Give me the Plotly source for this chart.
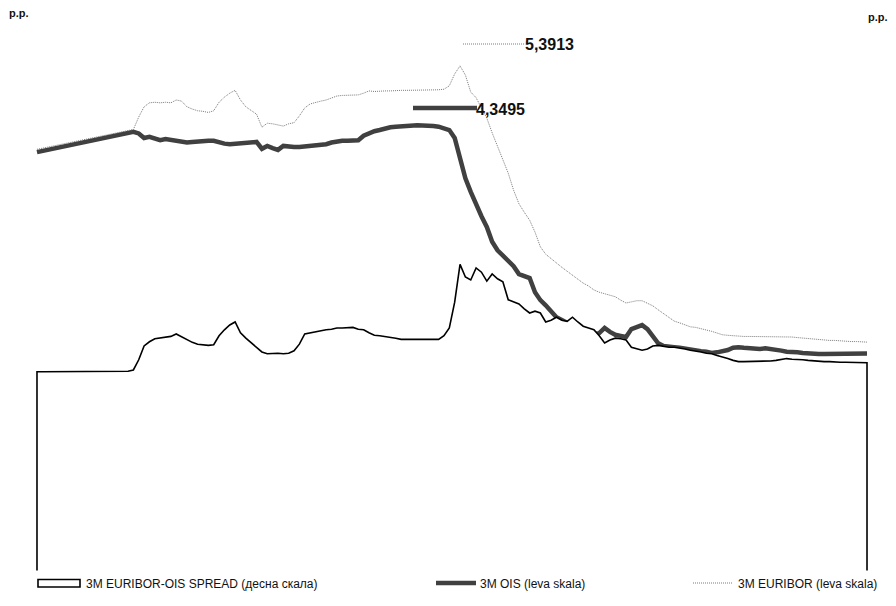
import pandas as pd
import plotly.graph_objects as go

START_DATE = "2007-04-02"

SPREAD = [
    0.07, 0.07, 0.07, 0.07, 0.07, 0.07, 0.07, 0.07, 0.07, 0.07,
    0.07, 0.07, 0.07, 0.07, 0.07, 0.07, 0.07, 0.08, 0.10,
    0.27, 0.50, 0.57, 0.62, 0.63, 0.64, 0.66, 0.70, 0.65, 0.60,
    0.56, 0.53, 0.52, 0.51, 0.52, 0.67, 0.77, 0.85, 0.90, 0.72,
    0.63, 0.55, 0.47,
    0.40, 0.37, 0.38, 0.38, 0.37, 0.38, 0.42, 0.53, 0.70, 0.72,
    0.74, 0.75, 0.77, 0.78, 0.80, 0.80, 0.80, 0.81, 0.78,
    0.77, 0.72, 0.68, 0.67, 0.66, 0.65, 0.63, 0.61, 0.61, 0.61,
    0.61, 0.61, 0.61, 0.61, 0.61, 0.67, 0.80, 1.23,
    1.86, 1.65, 1.60, 1.80, 1.73, 1.58, 1.70, 1.62, 1.57, 1.27,
    1.23, 1.20, 1.12, 1.05, 1.08, 1.05, 0.90, 0.93, 0.98, 0.93,
    0.91, 0.98,
    0.90, 0.83, 0.80, 0.77, 0.67, 0.55, 0.60, 0.63, 0.62, 0.60,
    0.48, 0.45, 0.43, 0.45, 0.50, 0.51, 0.49, 0.48, 0.48, 0.47,
    0.45, 0.43, 0.42, 0.40, 0.38, 0.37, 0.34, 0.32, 0.29, 0.26,
    0.24, 0.24, 0.24, 0.24, 0.24, 0.24, 0.25, 0.26, 0.28, 0.29,
    0.28, 0.28, 0.27, 0.26, 0.25, 0.25, 0.24, 0.24, 0.23, 0.23,
    0.23, 0.23, 0.22, 0.22, 0.22,
]

OIS = [
    3.87, 3.89, 3.91, 3.93, 3.95, 3.97, 3.99, 4.01, 4.03, 4.05,
    4.07, 4.09, 4.11, 4.13, 4.15, 4.17, 4.19, 4.21, 4.23,
    4.20, 4.12, 4.14, 4.12, 4.08, 4.10, 4.08, 4.07, 4.05, 4.04,
    4.05, 4.06, 4.06, 4.07, 4.07, 4.04, 4.02, 4.01, 4.02, 4.03,
    4.04, 4.04, 4.05,
    3.93, 3.98, 3.94, 3.91, 3.98, 3.96, 3.96, 3.96, 3.97, 3.98,
    3.99, 4.00, 4.01, 4.04, 4.06, 4.07, 4.07, 4.07, 4.08,
    4.16, 4.21, 4.24, 4.26, 4.29, 4.31, 4.32, 4.33, 4.34, 4.3495,
    4.345, 4.34, 4.34, 4.33, 4.32, 4.30, 4.26, 4.12,
    3.73, 3.41, 3.17, 2.94, 2.74, 2.55, 2.29, 2.14, 2.04, 1.95,
    1.86, 1.72, 1.69, 1.65, 1.40, 1.26, 1.17, 1.05, 0.96, 0.91,
    0.86, 0.77,
    0.72, 0.66, 0.65, 0.65, 0.68, 0.77, 0.70, 0.65, 0.63, 0.61,
    0.75, 0.79, 0.82, 0.75, 0.63, 0.50, 0.45, 0.43, 0.43, 0.42,
    0.40, 0.38, 0.37, 0.36, 0.35, 0.33, 0.34, 0.35, 0.38, 0.42,
    0.43, 0.42, 0.41, 0.40, 0.40, 0.41, 0.40, 0.39, 0.37, 0.35,
    0.35, 0.34, 0.33, 0.32, 0.32, 0.31, 0.31, 0.31, 0.31, 0.31,
    0.32, 0.32, 0.32, 0.32, 0.32,
]

EURIBOR = [
    3.92, 3.94, 3.96, 3.98, 4.00, 4.02, 4.04, 4.06, 4.07, 4.10,
    4.12, 4.13, 4.15, 4.17, 4.19, 4.21, 4.23, 4.25, 4.27,
    4.49, 4.67, 4.74, 4.75, 4.74, 4.75, 4.74, 4.79, 4.77, 4.67,
    4.63, 4.60, 4.59, 4.57, 4.60, 4.75, 4.84, 4.91, 4.96, 4.79,
    4.67, 4.60, 4.54,
    4.31, 4.38, 4.37, 4.35, 4.33, 4.37, 4.39, 4.51, 4.65, 4.72,
    4.75, 4.77, 4.79, 4.83, 4.86, 4.87, 4.87, 4.87, 4.88,
    4.91, 4.95, 4.94, 4.95, 4.95, 4.95, 4.96, 4.96, 4.96, 4.96,
    4.96, 4.96, 4.97, 4.97, 4.97, 4.98, 5.04, 5.25,
    5.3913, 5.23, 4.93, 4.83, 4.65, 4.47, 4.21, 3.98, 3.73, 3.50,
    3.20, 2.96, 2.81, 2.67, 2.46, 2.20, 2.07, 1.99, 1.92, 1.84,
    1.77, 1.70,
    1.63, 1.56, 1.51, 1.44, 1.40, 1.37, 1.35, 1.32, 1.26, 1.21,
    1.23, 1.25, 1.25, 1.21, 1.16, 1.09, 1.02, 0.95, 0.89, 0.86,
    0.82, 0.79, 0.78, 0.76, 0.73, 0.71, 0.68, 0.65, 0.64, 0.63,
    0.62, 0.62, 0.62, 0.62, 0.62, 0.62, 0.62, 0.62, 0.62, 0.62,
    0.61, 0.60, 0.59, 0.58, 0.57, 0.57, 0.56, 0.55, 0.55, 0.54,
    0.54, 0.53, 0.53, 0.52, 0.52,
]

NAMES = [
    "3M EURIBOR-OIS SPREAD (десна скала)",
    "3M OIS (leva skala)",
    "3M EURIBOR (leva skala)",
]
UNIT = "p.p."

n = min(len(SPREAD), len(OIS), len(EURIBOR))
DATES = pd.date_range(START_DATE, periods=n, freq="7D")
SPREAD, OIS, EURIBOR = SPREAD[:n], OIS[:n], EURIBOR[:n]

# ---------------- layout constants ----------------
# the page body has an 8px margin, so the figure is 16px smaller than the window
OFF = 8
W, H = 880, 590
ML, MR, MT, MB = 28, 20, 24, 26
Y1_RANGE = [-3.534, 5.989]
Y2_RANGE = [-3.267, 5.733]
SPREAD_BASE = -3.242
FONT = "Arial, Liberation Sans, sans-serif"
OIS_COLOR = "#404040"
EUR_COLOR = "#7a7a7a"
EUR_DASH = "1px,1px"


def px(x):
    """window x-pixel -> paper fraction"""
    return (x - OFF - ML) / (W - ML - MR)


def py(y):
    """window y-pixel -> paper fraction"""
    return (H - MB - (y - OFF)) / (H - MT - MB)


fig = go.Figure()

# spread: white area with black outline, filled down to the bottom of the right scale
fig.add_trace(go.Scatter(
    x=[DATES[0]] + list(DATES) + [DATES[-1]],
    y=[SPREAD_BASE] + list(SPREAD) + [SPREAD_BASE],
    mode="lines", fill="toself", fillcolor="white",
    line=dict(color="black", width=1.6),
    yaxis="y2", name=NAMES[0], showlegend=False, hoverinfo="skip",
))
fig.add_trace(go.Scatter(
    x=DATES, y=OIS, mode="lines",
    line=dict(color=OIS_COLOR, width=4.5),
    name=NAMES[1], showlegend=False,
))
fig.add_trace(go.Scatter(
    x=DATES, y=EURIBOR, mode="lines",
    line=dict(color=EUR_COLOR, width=1, dash=EUR_DASH),
    name=NAMES[2], showlegend=False,
))

pad = pd.Timedelta(hours=31)
axis_common = dict(showgrid=False, showticklabels=False, zeroline=False,
                   showline=False, ticks="", fixedrange=True)

shapes = [
    # legend symbols
    dict(type="rect", xref="paper", yref="paper",
         x0=px(38), x1=px(80), y0=py(587), y1=py(579.5),
         line=dict(color="black", width=1.6), fillcolor="white"),
    dict(type="line", xref="paper", yref="paper",
         x0=px(436), x1=px(476), y0=py(583), y1=py(583),
         line=dict(color=OIS_COLOR, width=4.5)),
    dict(type="line", xref="paper", yref="paper",
         x0=px(693), x1=px(733), y0=py(583), y1=py(583),
         line=dict(color=EUR_COLOR, width=1, dash=EUR_DASH)),
    # max-value markers
    dict(type="line", xref="paper", yref="paper",
         x0=px(463), x1=px(524), y0=py(44), y1=py(44),
         line=dict(color=EUR_COLOR, width=1, dash=EUR_DASH)),
    dict(type="line", xref="paper", yref="paper",
         x0=px(413), x1=px(477), y0=py(108), y1=py(108),
         line=dict(color=OIS_COLOR, width=4.5)),
]


def fmt(v):
    return f"{v:.4f}".replace(".", ",")


def label(text, x, y, size, bold=False):
    return dict(text=f"<b>{text}</b>" if bold else text,
                x=px(x), y=py(y), xref="paper", yref="paper",
                xanchor="left", yanchor="middle", showarrow=False,
                font=dict(family=FONT, size=size, color="#111"))


annotations = [
    label(UNIT, 7, 13, 11, bold=True),
    label(UNIT, 866, 17, 11, bold=True),
    label(fmt(max(EURIBOR)), 523, 45, 16, bold=True),
    label(fmt(max(OIS)), 474, 109, 16, bold=True),
    label(NAMES[0], 84, 584, 12),
    label(NAMES[1], 478, 584, 12),
    label(NAMES[2], 736, 584, 12),
]

fig.update_layout(
    width=W, height=H,
    margin=dict(l=ML, r=MR, t=MT, b=MB, pad=0),
    paper_bgcolor="white", plot_bgcolor="white",
    showlegend=False,
    font=dict(family=FONT, size=12, color="#111"),
    xaxis=dict(range=[DATES[0] - pad, DATES[-1] + pad], **axis_common),
    yaxis=dict(range=Y1_RANGE, **axis_common),
    yaxis2=dict(range=Y2_RANGE, overlaying="y", side="right", **axis_common),
    shapes=shapes,
    annotations=annotations,
)

fig.write_html("out.html")
